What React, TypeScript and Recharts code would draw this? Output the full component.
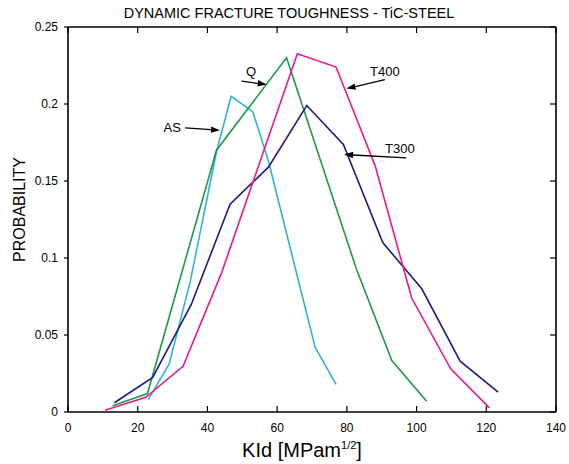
import React from "react";
import {
  LineChart,
  Line,
  XAxis,
  YAxis,
  ReferenceLine,
  ReferenceDot,
} from "recharts";

const FONT = '"Liberation Sans", Arial, Helvetica, sans-serif';

const xTicks = [0, 20, 40, 60, 80, 100, 120, 140];
const yTicks = [0, 0.05, 0.1, 0.15, 0.2, 0.25];

// AS (as-received)
const asX = [23, 29, 35, 42.6, 46.8, 53, 57.5, 70.9, 76.9];
const asY = [0.008, 0.031, 0.084, 0.169, 0.205, 0.195, 0.163, 0.042, 0.018];

// Q (quenched)
const qX = [12.8, 22.8, 42.6, 62.7, 82.8, 92.9, 102.9];
const qY = [0.004, 0.012, 0.17, 0.23, 0.0925, 0.0334, 0.007];

// T300
const t300X = [13.3, 24.3, 35.4, 46.5, 57.5, 68.5, 79, 90.3, 101.5, 112.5, 123.4];
const t300Y = [0.006, 0.0225, 0.07, 0.135, 0.159, 0.199, 0.1737, 0.11, 0.08, 0.033, 0.0129];

// T400
const t400X = [10.6, 22.3, 33, 44, 55, 65.8, 76.9, 88.1, 98.6, 109.8, 120.9];
const t400Y = [0.0012, 0.0095, 0.0297, 0.09, 0.162, 0.2326, 0.224, 0.16, 0.074, 0.028, 0.0027];

// annotation labels: text position and arrow (from -> to)
const notes = [
  { text: "Q", tx: 52.5, ty: 0.221, x1: 49.8, y1: 0.2148, x2: 57.0, y2: 0.2127 },
  { text: "AS", tx: 29.9, ty: 0.185, x1: 33.6, y1: 0.1845, x2: 43.6, y2: 0.183 },
  { text: "T400", tx: 90.9, ty: 0.221, x1: 90.9, y1: 0.2159, x2: 79.9, y2: 0.21 },
  { text: "T300", tx: 95.2, ty: 0.171, x1: 97, y1: 0.165, x2: 79.2, y2: 0.1672 },
];

const toRows = (xs: number[], ys: number[]) => xs.map((x, i) => ({ x, y: ys[i] }));

const series = [
  { name: "AS", data: toRows(asX, asY), color: "#2ab4d9" },
  { name: "Q", data: toRows(qX, qY), color: "#1f9a48" },
  { name: "T300", data: toRows(t300X, t300Y), color: "#1c1c85" },
  { name: "T400", data: toRows(t400X, t400Y), color: "#ee1a84" },
];

const fmtY = (v: number) => (v === 0 ? "0" : String(Number(v.toFixed(2))));
const TICK = 6;

function Arrow(props: any) {
  const { x1, y1, x2, y2 } = props;
  if ([x1, y1, x2, y2].some((v) => v == null || isNaN(v))) return null;
  const dx = x2 - x1;
  const dy = y2 - y1;
  const len = Math.sqrt(dx * dx + dy * dy) || 1;
  const ux = dx / len;
  const uy = dy / len;
  const hl = 9;
  const hw = 3.2;
  const bx = x2 - ux * hl;
  const by = y2 - uy * hl;
  const pts = `${x2},${y2} ${bx - uy * hw},${by + ux * hw} ${bx + uy * hw},${by - ux * hw}`;
  return (
    <g>
      <line x1={x1} y1={y1} x2={bx} y2={by} stroke="#000" strokeWidth={1.3} />
      <polygon points={pts} fill="#000" />
    </g>
  );
}

// short inward marks at both ends of a vertical reference line (top + bottom edges)
function XTickMarks(props: any) {
  const { x1, y1, x2, y2 } = props;
  if ([x1, y1, x2, y2].some((v) => v == null || isNaN(v))) return null;
  const top = Math.min(y1, y2);
  const bot = Math.max(y1, y2);
  return (
    <g stroke="#000" strokeWidth={1.2}>
      <line x1={x1} y1={top} x2={x1} y2={top + TICK} />
      <line x1={x1} y1={bot} x2={x1} y2={bot - TICK} />
    </g>
  );
}

// short inward mark at the right end of a horizontal reference line
function YTickMark(props: any) {
  const { x1, y1, x2, y2 } = props;
  if ([x1, y1, x2, y2].some((v) => v == null || isNaN(v))) return null;
  const right = Math.max(x1, x2);
  return <line x1={right} y1={y1} x2={right - TICK} y2={y1} stroke="#000" strokeWidth={1.2} />;
}

export default function App() {
  return (
    <div style={{ position: "absolute", left: 0, top: 0, width: 569, height: 464, background: "#fff", fontFamily: FONT }}>
      <div
        style={{
          position: "absolute",
          left: 0,
          width: 578,
          top: 4,
          textAlign: "center",
          fontSize: 14.5,
          lineHeight: "18px",
          color: "#000",
        }}
      >
        DYNAMIC FRACTURE TOUGHNESS - TiC-STEEL
      </div>
      <LineChart
        width={569}
        height={464}
        margin={{ top: 27, right: 13, left: 0, bottom: 0 }}
        style={{ position: "absolute", left: 0, top: 0, fontFamily: FONT }}
      >
        <XAxis
          xAxisId="b"
          dataKey="x"
          type="number"
          domain={[0, 140]}
          ticks={xTicks}
          allowDataOverflow
          height={52}
          tickLine={false}
          tickMargin={5}
          axisLine={{ stroke: "#000", strokeWidth: 1.6 }}
          tick={{ fontSize: 12, fill: "#000" }}
          label={{
            content: (p: any) => {
              const vb = p.viewBox || { x: 68, y: 412, width: 488 };
              return (
                <text x={vb.x + 234} y={vb.y + 45} textAnchor="middle" fill="#000" fontSize={20} fontFamily={FONT}>
                  KId [MPam
                  <tspan fontSize={11} dy={-8}>1/2</tspan>
                  <tspan fontSize={20} dy={8}>]</tspan>
                </text>
              );
            },
          }}
        />
        <YAxis
          yAxisId="l"
          type="number"
          domain={[0, 0.25]}
          ticks={yTicks}
          allowDataOverflow
          width={68}
          tickSize={4}
          tickMargin={6}
          tickFormatter={fmtY}
          axisLine={{ stroke: "#000", strokeWidth: 1.6 }}
          tickLine={{ stroke: "#000", strokeWidth: 1.2 }}
          tick={{ fontSize: 12, fill: "#000" }}
          label={{
            content: (p: any) => {
              const vb = p.viewBox || { x: 0, y: 27, height: 385 };
              const cx = vb.x + 25;
              const cy = vb.y + vb.height / 2 - 10;
              return (
                <text
                  x={cx}
                  y={cy}
                  transform={`rotate(-90 ${cx} ${cy})`}
                  textAnchor="middle"
                  fill="#000"
                  fontSize={16}
                  fontFamily={FONT}
                >
                  PROBABILITY
                </text>
              );
            },
          }}
        />
        {/* frame: top and right edges */}
        <ReferenceLine xAxisId="b" yAxisId="l" y={0.25} stroke="#000" strokeWidth={1.6} ifOverflow="visible" />
        <ReferenceLine xAxisId="b" yAxisId="l" x={140} stroke="#000" strokeWidth={1.6} ifOverflow="visible" />
        {xTicks.map((t) => (
          <ReferenceLine
            key={"xt" + t}
            xAxisId="b"
            yAxisId="l"
            x={t}
            ifOverflow="visible"
            shape={(p: any) => <XTickMarks {...p} />}
          />
        ))}
        {yTicks.map((t) => (
          <ReferenceLine
            key={"yt" + t}
            xAxisId="b"
            yAxisId="l"
            y={t}
            ifOverflow="visible"
            shape={(p: any) => <YTickMark {...p} />}
          />
        ))}
        {series.map((s) => (
          <Line
            key={s.name}
            xAxisId="b"
            yAxisId="l"
            data={s.data}
            dataKey="y"
            name={s.name}
            type="linear"
            stroke={s.color}
            strokeWidth={1.6}
            dot={false}
            activeDot={false}
            isAnimationActive={false}
          />
        ))}
        {notes.map((n) => (
          <ReferenceLine
            key={"a" + n.text}
            xAxisId="b"
            yAxisId="l"
            segment={[
              { x: n.x1, y: n.y1 },
              { x: n.x2, y: n.y2 },
            ]}
            shape={(p: any) => <Arrow {...p} />}
          />
        ))}
        {notes.map((n) => (
          <ReferenceDot
            key={"t" + n.text}
            xAxisId="b"
            yAxisId="l"
            x={n.tx}
            y={n.ty}
            r={0}
            shape={(p: any) => (
              <text x={p.cx} y={p.cy} dy="0.35em" textAnchor="middle" fontSize={13} fill="#000" fontFamily={FONT}>
                {n.text}
              </text>
            )}
          />
        ))}
      </LineChart>
    </div>
  );
}
